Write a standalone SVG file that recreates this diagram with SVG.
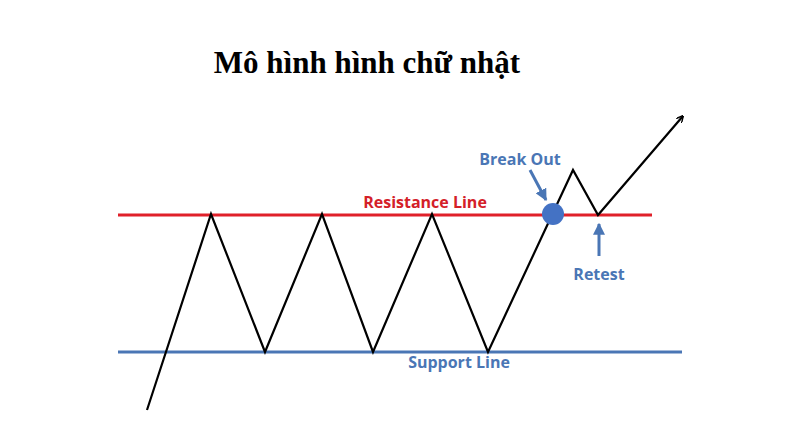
<svg xmlns="http://www.w3.org/2000/svg" width="800" height="448" viewBox="0 0 800 448">
<defs>
<marker id="bk" viewBox="0 0 10 10" refX="9" refY="5" markerWidth="7" markerHeight="7" orient="auto" markerUnits="userSpaceOnUse"><path d="M0,0 L10,5 L0,10" fill="none" stroke="#000" stroke-width="2"/></marker>
<marker id="bl" viewBox="0 0 10 10" refX="9" refY="5" markerWidth="4" markerHeight="4" orient="auto"><path d="M0,0 L10,5 L0,10 z" fill="#4a76b5"/></marker>
</defs>
<style>
.lbl{font-family:"Open Sans","Liberation Sans",sans-serif;font-weight:bold;font-size:16px;text-anchor:middle}
</style>
<rect width="800" height="448" fill="#fff"/>
<text x="367" y="73" font-family="Liberation Serif,serif" font-weight="bold" font-size="31" text-anchor="middle">Mô hình hình chữ nhật</text>
<g id="resistance"><line x1="118" y1="215" x2="652" y2="215" stroke="#e0202a" stroke-width="3"/><text class="lbl" x="425" y="208" fill="#d42028">Resistance Line</text></g>
<g id="support"><line x1="118" y1="352" x2="682" y2="352" stroke="#4a76b5" stroke-width="3"/><text class="lbl" x="459" y="368" fill="#4a76b5">Support Line</text></g>
<g id="connectors">
<polyline points="147,410 211,214 265,352 322,214 373,352 432,214 488,352 573,170 598,215 683,116" fill="none" stroke="#000" stroke-width="2.2" stroke-linejoin="miter" marker-end="url(#bk)"/>
<line x1="530" y1="170" x2="546" y2="200" stroke="#4a76b5" stroke-width="3" marker-end="url(#bl)"/>
<line x1="599" y1="256" x2="599" y2="224" stroke="#4a76b5" stroke-width="3" marker-end="url(#bl)"/>
</g>
<g id="breakout"><circle cx="553" cy="214" r="11" fill="#4472c4"/><text class="lbl" x="520" y="165" fill="#4a76b5">Break Out</text></g>
<g id="retest"><text class="lbl" x="599" y="280" fill="#4a76b5">Retest</text></g>
</svg>
